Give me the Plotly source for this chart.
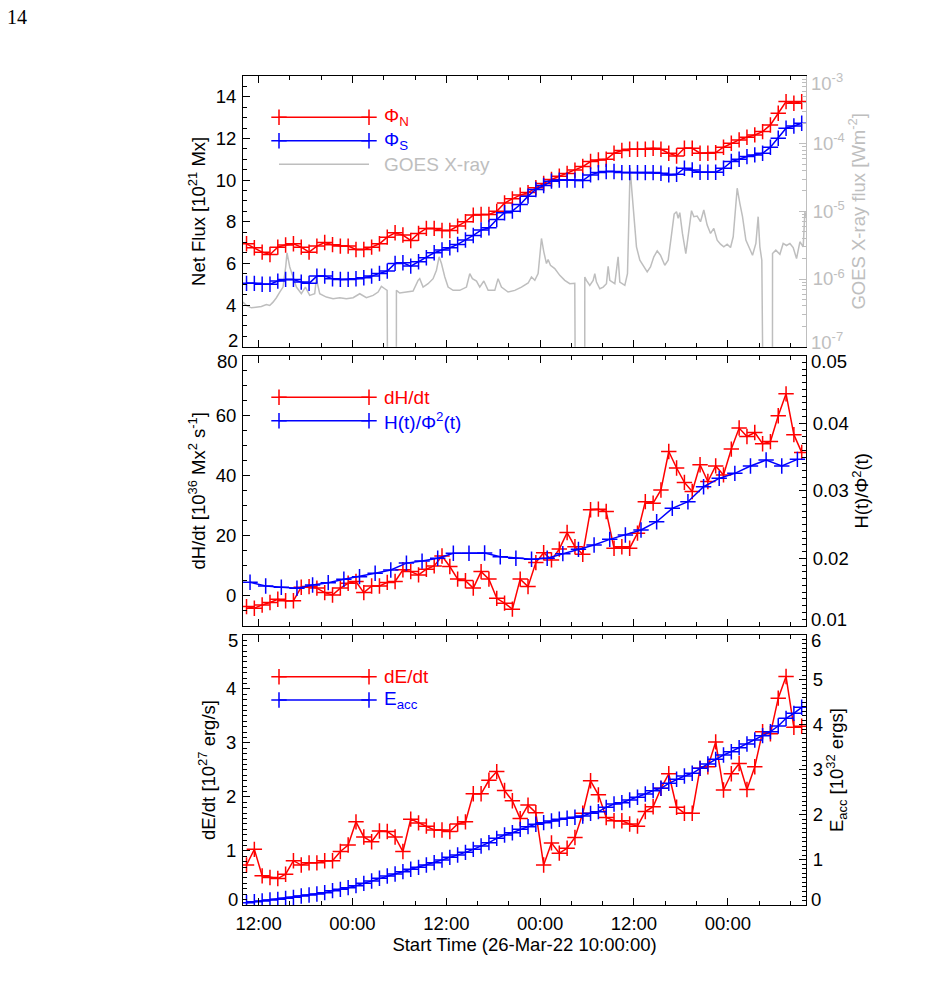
import plotly.graph_objects as go

# ---------------- data ----------------
# time in hours since 26-Mar-22 10:00:00
hours = [i + 0.45 for i in range(72)]
hphi_hours = [0.9 + 2 * k for k in range(36)]

phi_n = [6.94, 6.75, 6.54, 6.43, 6.78, 6.88, 6.94, 6.78, 6.54, 6.83,
         7.00, 6.90, 6.83, 6.83, 6.67, 6.67, 6.78, 6.94, 7.26, 7.47,
         7.36, 7.10, 7.44, 7.68, 7.68, 7.58, 7.58, 7.79, 8.00, 8.32,
         8.35, 8.35, 8.50, 8.90, 9.10, 9.28, 9.40, 9.63, 9.84, 10.03,
         10.19, 10.32, 10.48, 10.65, 10.89, 10.97, 11.00, 11.29, 11.42, 11.48,
         11.48, 11.48, 11.53, 11.48, 11.29, 11.16, 11.53, 11.53, 11.29, 11.29,
         11.32, 11.58, 11.77, 11.93, 12.06, 12.17, 12.33, 12.65, 13.21, 13.77,
         13.69, 13.77]

phi_s = [5.04, 5.04, 5.00, 5.00, 5.15, 5.23, 5.23, 5.10, 5.04, 5.39,
         5.39, 5.26, 5.23, 5.23, 5.26, 5.31, 5.39, 5.52, 5.63, 6.00,
         6.03, 5.87, 6.08, 6.27, 6.51, 6.64, 6.75, 6.91, 7.12, 7.34,
         7.60, 7.71, 8.11, 8.43, 8.51, 8.83, 9.23, 9.55, 9.74, 9.95,
         10.00, 10.00, 10.00, 9.98, 10.25, 10.36, 10.41, 10.41, 10.36, 10.36,
         10.36, 10.36, 10.36, 10.33, 10.25, 10.28, 10.57, 10.49, 10.38, 10.38,
         10.38, 10.57, 10.89, 11.00, 11.13, 11.21, 11.29, 11.58, 12.01, 12.49,
         12.60, 12.73]

goes_hours = [0.00, 0.43, 1.07, 1.71, 2.35, 2.99, 3.42, 3.84, 4.27, 4.70,
              5.12, 5.46, 5.63, 5.98, 6.40, 6.83, 7.46, 7.98, 8.53, 9.17,
              9.38, 9.81, 10.66, 11.52, 12.37, 13.22, 14.08, 14.93, 15.78, 16.64,
              17.28, 17.70, 18.13, 18.43, 18.55, 19.60, 19.62, 20.04, 20.90, 21.75,
              22.39, 22.60, 23.03, 23.67, 24.31, 24.74, 25.08, 25.38, 25.81, 26.23,
              26.87, 27.72, 28.58, 29.00, 29.34, 29.86, 30.28, 30.80, 31.35, 32.20,
              32.62, 33.05, 33.90, 34.76, 35.61, 36.47, 36.89, 37.32, 37.74, 37.95,
              38.17, 38.47, 38.81, 39.02, 39.32, 39.87, 40.51, 41.15, 41.79, 42.43,
              42.55, 43.70, 43.71, 43.92, 44.35, 44.78, 44.99, 45.20, 45.63, 46.06,
              46.48, 46.70, 46.91, 47.55, 47.97, 48.19, 48.83, 49.17, 49.38, 49.51,
              49.72, 49.98, 50.32, 50.75, 51.17, 51.69, 52.11, 52.54, 52.97, 53.39,
              53.94, 54.37, 54.71, 55.14, 55.44, 55.65, 55.86, 56.20, 56.63, 57.06,
              57.36, 57.66, 58.08, 58.51, 58.93, 59.36, 59.79, 60.21, 60.64, 61.07,
              61.49, 61.92, 62.35, 62.69, 62.99, 63.20, 63.54, 63.88, 64.31, 64.73,
              65.16, 65.59, 65.88, 66.10, 66.35, 66.60, 67.70, 67.72, 68.14, 68.66,
              69.08, 69.51, 69.94, 70.36, 70.79, 71.22, 71.64, 71.86, 71.98]
goes_log10 = [-6.342, -6.391, -6.426, -6.416, -6.406, -6.376, -6.391, -6.342, -6.277, -6.193,
              -6.119, -5.822, -5.614, -5.822, -5.970, -6.119, -6.218, -6.119, -6.243, -6.218,
              -5.995, -6.218, -6.267, -6.292, -6.277, -6.292, -6.277, -6.218, -6.277, -6.243,
              -6.193, -6.109, -6.144, -6.168, -9.0, -9.0, -6.168, -6.208, -6.193, -6.178,
              -6.020, -5.995, -6.119, -6.069, -5.995, -5.871, -5.673, -5.772, -5.970, -6.119,
              -6.168, -6.168, -6.119, -5.921, -5.995, -6.030, -6.119, -6.030, -6.168, -6.168,
              -5.995, -6.119, -6.193, -6.168, -6.119, -6.059, -5.970, -6.020, -5.921, -5.624,
              -5.401, -5.599, -5.772, -5.713, -5.797, -5.847, -5.946, -6.020, -6.069, -6.064,
              -9.0, -9.0, -5.970, -6.020, -6.094, -6.020, -5.921, -6.045, -6.144, -6.119,
              -6.069, -5.812, -6.020, -6.069, -5.673, -6.045, -6.094, -5.921, -4.733, -4.361,
              -4.683, -5.030, -5.525, -5.723, -5.797, -5.896, -5.822, -5.673, -5.584, -5.649,
              -5.797, -5.723, -5.426, -5.040, -5.005, -5.104, -5.020, -5.327, -5.624, -5.228,
              -4.990, -5.079, -5.069, -5.153, -4.980, -5.203, -5.327, -5.252, -5.426, -5.485,
              -5.525, -5.485, -5.535, -5.376, -4.931, -4.658, -4.881, -5.079, -5.426, -5.525,
              -5.649, -5.475, -5.079, -5.525, -5.723, -9.0, -9.0, -5.624, -5.574, -5.634,
              -5.475, -5.505, -5.475, -5.535, -5.698, -5.450, -5.525, -5.005, -5.079]

dhdt = [-3.56, -4.11, -3.0, -2.2, -1.1, -1.6, -1.6, 2.9, 3.1, 2.6,
        1.1, 0.3, 2.6, 4.2, 4.8, 1.1, 3.3, 3.3, 4.5, 4.8,
        8.7, 8.1, 7.0, 8.9, 10.0, 13.3, 9.8, 5.6, 5.1, 2.6,
        8.1, 5.6, -0.8, -2.4, -4.4, 5.6, 3.1, 11.1, 14.4, 12.0,
        15.6, 21.1, 16.4, 13.9, 28.7, 28.9, 28.1, 15.9, 16.4, 15.9,
        20.9, 31.4, 30.9, 35.3, 48.1, 42.6, 37.8, 34.8, 43.7, 38.1,
        43.3, 40.3, 48.9, 55.9, 53.1, 54.4, 50.7, 51.4, 60.0, 67.3,
        53.7, 47.8]

h_phi2 = [0.01646, 0.01592, 0.01572, 0.01557, 0.01607, 0.01641, 0.01691, 0.01730, 0.01780, 0.01828,
          0.01930, 0.01960, 0.02001, 0.02075, 0.02075, 0.02080, 0.02025, 0.02001, 0.01987, 0.02001,
          0.02070, 0.02134, 0.02198, 0.02282, 0.02346, 0.02420, 0.02543, 0.02741, 0.02839, 0.03061,
          0.03185, 0.03259, 0.03367, 0.03456, 0.03367, 0.03466]

dedt = [0.74, 1.03, 0.54, 0.51, 0.49, 0.57, 0.82, 0.74, 0.78, 0.78,
        0.82, 0.82, 0.99, 1.11, 1.54, 1.26, 1.17, 1.37, 1.36, 1.26,
        0.99, 1.59, 1.52, 1.46, 1.39, 1.39, 1.36, 1.50, 1.54, 2.06,
        2.06, 2.31, 2.47, 2.12, 1.93, 1.60, 1.85, 1.71, 0.74, 1.15,
        0.96, 1.05, 1.25, 1.70, 2.30, 2.04, 1.62, 1.56, 1.56, 1.50,
        1.46, 1.73, 1.82, 2.16, 2.43, 1.81, 1.70, 1.70, 2.53, 2.56,
        3.02, 2.13, 2.43, 2.62, 2.14, 2.56, 3.21, 3.17, 3.83, 4.23,
        3.29, 3.31]

eacc = [0.052, 0.074, 0.089, 0.111, 0.126, 0.148, 0.170, 0.200, 0.222, 0.244,
        0.274, 0.319, 0.348, 0.385, 0.430, 0.481, 0.533, 0.593, 0.644, 0.689,
        0.741, 0.793, 0.837, 0.889, 0.941, 1.000, 1.059, 1.111, 1.170, 1.237,
        1.311, 1.385, 1.481, 1.556, 1.607, 1.681, 1.741, 1.793, 1.830, 1.867,
        1.904, 1.926, 1.950, 1.978, 2.037, 2.074, 2.170, 2.244, 2.274, 2.333,
        2.393, 2.467, 2.541, 2.593, 2.704, 2.793, 2.867, 2.926, 3.037, 3.133,
        3.237, 3.333, 3.407, 3.496, 3.578, 3.667, 3.763, 3.852, 3.978, 4.148,
        4.259, 4.393]

x_tickvals = [2, 14, 26, 38, 50, 62]
x_ticktext = ["12:00", "00:00", "12:00", "00:00", "12:00", "00:00"]
goes_tickvals = [1e-6, 1e-5, 1e-4]
goes_ticktext = ["10<sup>-6</sup>", "10<sup>-5</sup>", "10<sup>-4</sup>"]

# ---------------- style ----------------
RED = "#FF0000"
BLUE = "#0000FF"
GRAY = "#BEBEBE"
FONT = "Liberation Sans, Arial, sans-serif"
FS = 18.5
FSL = 19


def marker(c):
    return dict(symbol="cross-thin", size=11, color=c, line=dict(color=c, width=1.5))


fig = go.Figure()

# Panel 1 (GOES behind)
fig.add_trace(go.Scatter(x=goes_hours, y=[10 ** v for v in goes_log10], mode="lines",
                         line=dict(color=GRAY, width=1.5), xaxis="x", yaxis="y"))
fig.add_trace(go.Scatter(x=hours, y=phi_n, mode="lines+markers", line=dict(color=RED, width=1.5),
                         marker=marker(RED), xaxis="x", yaxis="y2"))
fig.add_trace(go.Scatter(x=hours, y=phi_s, mode="lines+markers", line=dict(color=BLUE, width=1.5),
                         marker=marker(BLUE), xaxis="x", yaxis="y2"))
# Panel 2
fig.add_trace(go.Scatter(x=hours, y=dhdt, mode="lines+markers", line=dict(color=RED, width=1.5),
                         marker=marker(RED), xaxis="x2", yaxis="y3"))
fig.add_trace(go.Scatter(x=hphi_hours, y=h_phi2, mode="lines+markers", line=dict(color=BLUE, width=1.5),
                         marker=marker(BLUE), xaxis="x2", yaxis="y4"))
# Panel 3
fig.add_trace(go.Scatter(x=hours, y=dedt, mode="lines+markers", line=dict(color=RED, width=1.5),
                         marker=marker(RED), xaxis="x3", yaxis="y5"))
fig.add_trace(go.Scatter(x=hours, y=eacc, mode="lines+markers", line=dict(color=BLUE, width=1.5),
                         marker=marker(BLUE), xaxis="x3", yaxis="y6"))

# Legend glyphs on a hidden full-area overlay axis (paper fractions)
L = 243
R = 135
T = 76
B = 87
W = 941
H = 992
pw = W - L - R
ph = H - T - B


def px(xp):
    return (xp - L) / pw


def py(yp):
    return (H - B - yp) / ph


legend_items = [
    (117.3, RED, True, "Φ<sub>N</sub>"),
    (140.7, BLUE, True, "Φ<sub>S</sub>"),
    (164.3, GRAY, False, "GOES X-ray"),
    (397.3, RED, True, "dH/dt"),
    (420.7, BLUE, True, "H(t)/Φ<sup>2</sup>(t)"),
    (676.7, RED, True, "dE/dt"),
    (700.0, BLUE, True, "E<sub>acc</sub>"),
]
annotations = []
for yy, c, mk, txt in legend_items:
    fig.add_trace(go.Scatter(x=[px(279), px(369)], y=[py(yy), py(yy)],
                             mode="lines+markers" if mk else "lines",
                             line=dict(color=c, width=1.5), marker=marker(c),
                             xaxis="x4", yaxis="y7", hoverinfo="skip"))
    annotations.append(dict(x=px(382), y=py(yy), xref="paper", yref="paper", xanchor="left",
                            yanchor="middle", text=txt, showarrow=False,
                            font=dict(family=FONT, size=FSL, color=c)))

common_x = dict(range=[0, 72], showgrid=False, zeroline=False, showline=True, linecolor="black",
                linewidth=1, mirror="ticks", ticks="inside", ticklen=7, tickcolor="black",
                tickvals=x_tickvals, ticktext=x_ticktext,
                minor=dict(ticks="inside", ticklen=4, dtick=4, tick0=2, tickcolor="black"),
                tickfont=dict(family=FONT, size=FS, color="black"))


def yax(rng, tickvals, minor, side, color="black", title="", standoff=5, **kw):
    d = dict(range=rng, showgrid=False, zeroline=False, showline=True, linecolor=color, linewidth=1,
             ticks="inside", ticklen=7, tickcolor=color, tickvals=tickvals,
             side=side, mirror=False, ticklabelstandoff=2,
             minor=dict(ticks="inside", ticklen=4, tickcolor=color, **minor),
             tickfont=dict(family=FONT, size=FS, color=color),
             title=dict(text=title, standoff=standoff, font=dict(family=FONT, size=FS, color=color)))
    d.update(kw)
    return d


d1 = [0.6735, 1.0]
d2 = [0.3366, 0.6626]
d3 = [0.0, 0.3257]

log_minor = [m * 10.0 ** e for e in range(-7, -3) for m in range(2, 10)]

layout = dict(
    width=W, height=H, margin=dict(l=L, r=R, t=T, b=B),
    paper_bgcolor="white", plot_bgcolor="rgba(0,0,0,0)", showlegend=False,
    font=dict(family=FONT, size=FS, color="black"),
    xaxis=dict(common_x, domain=[0, 1], anchor="y", showticklabels=False),
    xaxis2=dict(common_x, domain=[0, 1], anchor="y3", showticklabels=False, matches="x"),
    xaxis3=dict(common_x, domain=[0, 1], anchor="y5", showticklabels=True, matches="x",
                ticklabelstandoff=2,
                title=dict(text="Start Time (26-Mar-22 10:00:00)", standoff=0,
                           font=dict(family=FONT, size=FS))),
    xaxis4=dict(domain=[0, 1], range=[0, 1], visible=False, anchor="y7"),
    yaxis7=dict(domain=[0, 1], range=[0, 1], visible=False, anchor="x4"),
    yaxis=yax([-7, -3], goes_tickvals, dict(tickvals=log_minor), "right", color=GRAY,
              title="GOES X-ray flux [Wm<sup>-2</sup>]", standoff=2, ticktext=goes_ticktext,
              type="log", domain=d1, anchor="x"),
    yaxis2=yax([2, 15], [4, 6, 8, 10, 12, 14], dict(dtick=0.5, tick0=0), "left",
               title="Net Flux [10<sup>21</sup> Mx]", overlaying="y", anchor="x"),
    yaxis3=yax([-10, 80], [0, 20, 40, 60], dict(dtick=5, tick0=0), "left",
               title="dH/dt [10<sup>36</sup> Mx<sup>2</sup> s<sup>-1</sup>]", domain=d2, anchor="x2"),
    yaxis4=yax([0.01, 0.05], [0.02, 0.03, 0.04], dict(dtick=0.001, tick0=0), "right",
               title="H(t)/Φ<sup>2</sup>(t)", standoff=2, overlaying="y3", anchor="x2"),
    yaxis5=yax([0, 5], [1, 2, 3, 4], dict(dtick=0.1, tick0=0), "left",
               title="dE/dt [10<sup>27</sup> erg/s]", domain=d3, anchor="x3"),
    yaxis6=yax([0, 6], [1, 2, 3, 4, 5], dict(dtick=0.1, tick0=0), "right",
               title="E<sub>acc</sub> [10<sup>32</sup> ergs]", standoff=2, overlaying="y5", anchor="x3"),
)

# End labels shifted inward (IDL style)
end_labels = [
    ("y2", 2, "2", "left", 6, "black"),
    ("y", -3, "10<sup>-3</sup>", "right", -6, GRAY),
    ("y", -7, "10<sup>-7</sup>", "right", 6, GRAY),
    ("y3", 80, "80", "left", -6, "black"),
    ("y4", 0.05, "0.05", "right", -6, "black"),
    ("y4", 0.01, "0.01", "right", 6, "black"),
    ("y5", 5, "5", "left", -6, "black"),
    ("y5", 0, "0", "left", 6, "black"),
    ("y6", 6, "6", "right", -6, "black"),
    ("y6", 0, "0", "right", 6, "black"),
]
for yref, yv, txt, side, ys, c in end_labels:
    annotations.append(dict(xref="paper", yref=yref, x=0 if side == "left" else 1, y=yv, text=txt,
                            showarrow=False, xanchor="right" if side == "left" else "left",
                            yanchor="middle", xshift=-3 if side == "left" else 3, yshift=ys,
                            font=dict(family=FONT, size=FS, color=c)))

annotations.append(dict(xref="paper", yref="paper", x=px(5), y=py(4), xanchor="left", yanchor="top",
                        text="14", showarrow=False,
                        font=dict(family="Liberation Serif, DejaVu Serif, serif", size=20, color="black")))

layout["annotations"] = annotations
fig.update_layout(layout)
fig.write_html("out.html")
